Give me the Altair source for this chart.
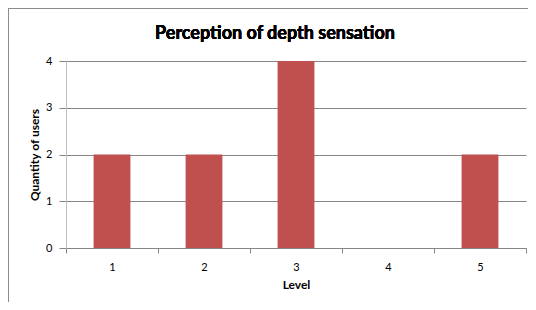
import altair as alt
import pandas as pd

levels = ["1", "2", "3", "4", "5"]
users = [2, 2, 4, 0, 2]
chart_title = "Perception of depth sensation"

df = pd.DataFrame({"Level": levels, "Users": users})

FONT = "Lato"

bars = alt.Chart(df).mark_bar(color="#C0504D", width=alt.RelativeBandSize(0.4)).encode(
    x=alt.X("Level:N", sort=levels,
            scale=alt.Scale(paddingInner=0, paddingOuter=0),
            axis=alt.Axis(title="Level", labelAngle=0, tickBand="extent",
                          domainColor="#868686", tickColor="#868686", tickSize=5,
                          labelPadding=8, titlePadding=7, grid=False)),
    y=alt.Y("Users:Q", scale=alt.Scale(domain=[0, 4]),
            axis=alt.Axis(title="Quantity of users", values=[0, 1, 2, 3, 4],
                          gridColor="#868686", domainColor="#BFBFBF",
                          tickColor="#868686", tickSize=7, labelPadding=7,
                          titlePadding=4)),
)

frame_left = alt.Chart(df).mark_rule(color="#8C8C8C", strokeWidth=1).encode(
    x=alt.value(-57.5), y=alt.value(-53), y2=alt.value(260)
)
frame_top = alt.Chart(df).mark_rule(color="#8C8C8C", strokeWidth=1).encode(
    x=alt.value(-58), x2=alt.value(480), y=alt.value(-52.5)
)
title_text = alt.Chart(df).mark_text(
    font=FONT, fontSize=18, fontWeight="bold", color="#000000",
    align="center", baseline="alphabetic"
).encode(x=alt.value(209), y=alt.value(-22), text=alt.value(chart_title))

chart = alt.layer(frame_left, frame_top, title_text, bars).properties(
    width=460, height=187,
    autosize=alt.AutoSizeParams(type="none"),
    padding={"left": 58, "top": 53, "right": 2, "bottom": 54},
).configure_view(stroke=None).configure_axis(
    labelFont=FONT, titleFont=FONT, labelFontSize=11, titleFontSize=12,
    titleFontWeight="bold", labelColor="#000000", titleColor="#000000"
)

chart.save("out.html", embed_options={"renderer": "svg", "actions": False})
